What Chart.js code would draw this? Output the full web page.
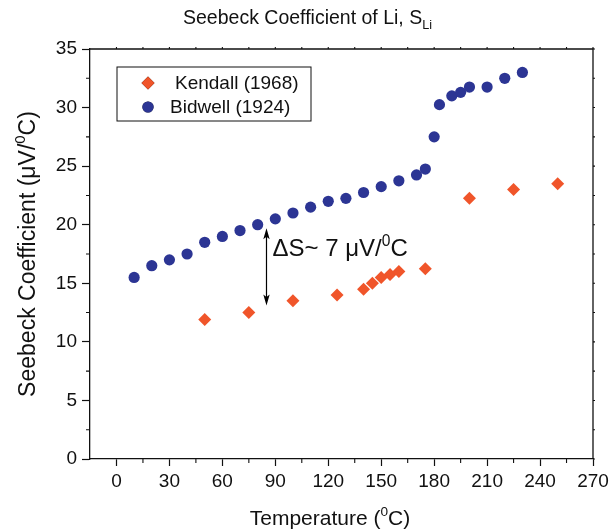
<!DOCTYPE html>
<html><head><meta charset="utf-8">
<script src="https://cdn.jsdelivr.net/npm/chart.js@4/dist/chart.umd.min.js"></script>
<style>html,body{margin:0;padding:0;background:#fff;}canvas{display:block}</style>
</head><body>
<canvas id="c" width="613" height="532"></canvas>
<script>
// ---- data ----
const kendallT = [50, 75, 100, 125, 140, 145, 150, 155, 160, 175, 200, 225, 250];
const kendallS = [11.9, 12.5, 13.5, 14.0, 14.5, 15.0, 15.5, 15.75, 16.0, 16.25, 22.25, 23.0, 23.5];
const bidwellT = [10, 20, 30, 40, 50, 60, 70, 80, 90, 100, 110, 120, 130, 140, 150, 160, 170, 175, 180, 183, 190, 195, 200, 210, 220, 230];
const bidwellS = [15.5, 16.5, 17.0, 17.5, 18.5, 19.0, 19.5, 20.0, 20.5, 21.0, 21.5, 22.0, 22.25, 22.75, 23.25, 23.75, 24.25, 24.75, 27.5, 30.25, 31.0, 31.3, 31.75, 31.75, 32.5, 33.0];
const xTicks = [0, 30, 60, 90, 120, 150, 180, 210, 240, 270];
const xMinor = [15, 45, 75, 105, 135, 165, 195, 225, 255];
const yTicks = [0, 5, 10, 15, 20, 25, 30, 35];
const yMinor = [2.5, 7.5, 12.5, 17.5, 22.5, 27.5, 32.5];
const seriesNames = ['Kendall (1968)', 'Bidwell (1924)'];
const titleParts = [{t: 'Seebeck Coefficient of Li, S'}, {t: 'Li', sub: true}];
const xTitleParts = [{t: 'Temperature ('}, {t: '0', sup: true}, {t: 'C)'}];
const yTitleParts = [{t: 'Seebeck Coefficient (\u03BCV/'}, {t: '0', sup: true}, {t: 'C)'}];
const noteParts = [{t: '\u0394S~ 7 \u03BCV/'}, {t: '0', sup: true}, {t: 'C'}];
const arrowT = 85, arrowTop = 19.7, arrowBottom = 13.1;

const FONT = "'Liberation Sans', Arial, Helvetica, sans-serif";
const ORANGE = '#f0552a';
const BLUE = '#2c3594';
const INK = '#111';

function richWidth(ctx, parts, size) {
  let w = 0;
  for (const p of parts) {
    const s = (p.sup || p.sub) ? size * 0.65 : size;
    ctx.font = s + 'px ' + FONT;
    w += ctx.measureText(p.t).width;
  }
  return w;
}
function drawRich(ctx, parts, x, y, size, align) {
  const total = richWidth(ctx, parts, size);
  let cx = align === 'center' ? x - total / 2 : x;
  ctx.textBaseline = 'alphabetic';
  ctx.textAlign = 'left';
  ctx.fillStyle = INK;
  for (const p of parts) {
    const s = (p.sup || p.sub) ? size * 0.65 : size;
    ctx.font = s + 'px ' + FONT;
    let dy = 0;
    if (p.sup) dy = -size * 0.42;
    if (p.sub) dy = size * 0.28;
    ctx.fillText(p.t, cx, y + dy);
    cx += ctx.measureText(p.t).width;
  }
}

const decor = {
  id: 'decor',
  afterDraw(chart) {
    const ctx = chart.ctx;
    const a = chart.chartArea;
    const xs = chart.scales.x, ys = chart.scales.y;
    ctx.save();
    // frame top/right
    ctx.strokeStyle = INK;
    ctx.lineWidth = 1.3;
    ctx.beginPath();
    ctx.moveTo(a.left, a.top); ctx.lineTo(a.right, a.top); ctx.lineTo(a.right, a.bottom);
    ctx.stroke();
    ctx.lineWidth = 1.1;
    ctx.beginPath();
    // minor ticks bottom / left
    for (const v of xMinor) { const px = xs.getPixelForValue(v); ctx.moveTo(px, a.bottom); ctx.lineTo(px, a.bottom + 4); }
    for (const v of yMinor) { const py = ys.getPixelForValue(v); ctx.moveTo(a.left, py); ctx.lineTo(a.left - 4, py); }
    // small ticks on top / right
    for (const v of xTicks.concat(xMinor)) { const px = xs.getPixelForValue(v); ctx.moveTo(px, a.top); ctx.lineTo(px, a.top - 2); }
    for (const v of yTicks.concat(yMinor)) { const py = ys.getPixelForValue(v); ctx.moveTo(a.right, py); ctx.lineTo(a.right + 2, py); }
    ctx.stroke();

    // legend
    const lx = a.left + 27, ly = a.top + 18, lw = 194, lh = 54;
    ctx.lineWidth = 1;
    ctx.strokeStyle = INK;
    ctx.strokeRect(lx, ly, lw, lh);
    const ds = chart.data.datasets;
    const rows = [{y: ly + 16, tx: lx + 58}, {y: ly + 40, tx: lx + 53}];
    ds.forEach((d, i) => {
      const r = rows[i];
      Chart.helpers.drawPoint(ctx, {pointStyle: d.pointStyle, radius: d.pointRadius, borderWidth: 0}, lx + 31, r.y);
      ctx.fillStyle = d.backgroundColor;
      ctx.fill();
      ctx.font = '19px ' + FONT;
      ctx.fillStyle = INK;
      ctx.textBaseline = 'middle';
      ctx.textAlign = 'left';
      ctx.fillText(d.label, r.tx, r.y + 1);
    });

    // title
    drawRich(ctx, titleParts, 183, 24, 19.5, 'left');
    // axis titles
    drawRich(ctx, xTitleParts, 330, 525, 21, 'center');
    ctx.save();
    ctx.translate(35, 254);
    ctx.rotate(-Math.PI / 2);
    drawRich(ctx, yTitleParts, 0, 0, 23, 'center');
    ctx.restore();

    // arrow annotation
    const ax = xs.getPixelForValue(arrowT);
    const ay1 = ys.getPixelForValue(arrowTop), ay2 = ys.getPixelForValue(arrowBottom);
    ctx.strokeStyle = '#000';
    ctx.fillStyle = '#000';
    ctx.lineWidth = 1.2;
    ctx.beginPath(); ctx.moveTo(ax, ay1 + 8); ctx.lineTo(ax, ay2 - 8); ctx.stroke();
    ctx.beginPath(); ctx.moveTo(ax, ay1); ctx.lineTo(ax - 3.2, ay1 + 11); ctx.lineTo(ax, ay1 + 8.5); ctx.lineTo(ax + 3.2, ay1 + 11); ctx.closePath(); ctx.fill();
    ctx.beginPath(); ctx.moveTo(ax, ay2); ctx.lineTo(ax - 3.2, ay2 - 11); ctx.lineTo(ax, ay2 - 8.5); ctx.lineTo(ax + 3.2, ay2 - 11); ctx.closePath(); ctx.fill();
    drawRich(ctx, noteParts, ax + 6, 256, 24, 'left');
    ctx.restore();
  }
};

new Chart(document.getElementById('c'), {
  type: 'scatter',
  data: {
    datasets: [
      {label: seriesNames[0], data: kendallT.map((t, i) => ({x: t, y: kendallS[i]})),
       pointStyle: 'rectRot', pointRadius: 6.5, pointHoverRadius: 6.5, backgroundColor: ORANGE, borderColor: ORANGE, borderWidth: 0},
      {label: seriesNames[1], data: bidwellT.map((t, i) => ({x: t, y: bidwellS[i]})),
       pointStyle: 'circle', pointRadius: 5.6, pointHoverRadius: 5.6, backgroundColor: BLUE, borderColor: BLUE, borderWidth: 0}
    ]
  },
  options: {
    responsive: false,
    animation: false,
    layout: {padding: {top: 49, right: 20, left: 0, bottom: 0}},
    plugins: {legend: {display: false}, title: {display: false}, tooltip: {enabled: false}},
    scales: {
      x: {
        type: 'linear', min: -15, max: 270,
        afterBuildTicks: s => { s.ticks = xTicks.map(v => ({value: v})); },
        afterFit: s => { s.height = 73; },
        grid: {drawOnChartArea: false, drawTicks: true, tickLength: 7, tickWidth: 1.2, tickColor: INK},
        border: {display: true, color: INK, width: 1.3},
        ticks: {font: {family: FONT, size: 19}, color: INK, padding: 4, maxRotation: 0, autoSkip: false}
      },
      y: {
        type: 'linear', min: 0, max: 35,
        afterBuildTicks: s => { s.ticks = yTicks.map(v => ({value: v})); },
        afterFit: s => { s.width = 90; },
        grid: {drawOnChartArea: false, drawTicks: true, tickLength: 8, tickWidth: 1.2, tickColor: INK},
        border: {display: true, color: INK, width: 1.3},
        ticks: {font: {family: FONT, size: 19}, color: INK, padding: 5}
      }
    }
  },
  plugins: [decor]
});
</script>
</body></html>
